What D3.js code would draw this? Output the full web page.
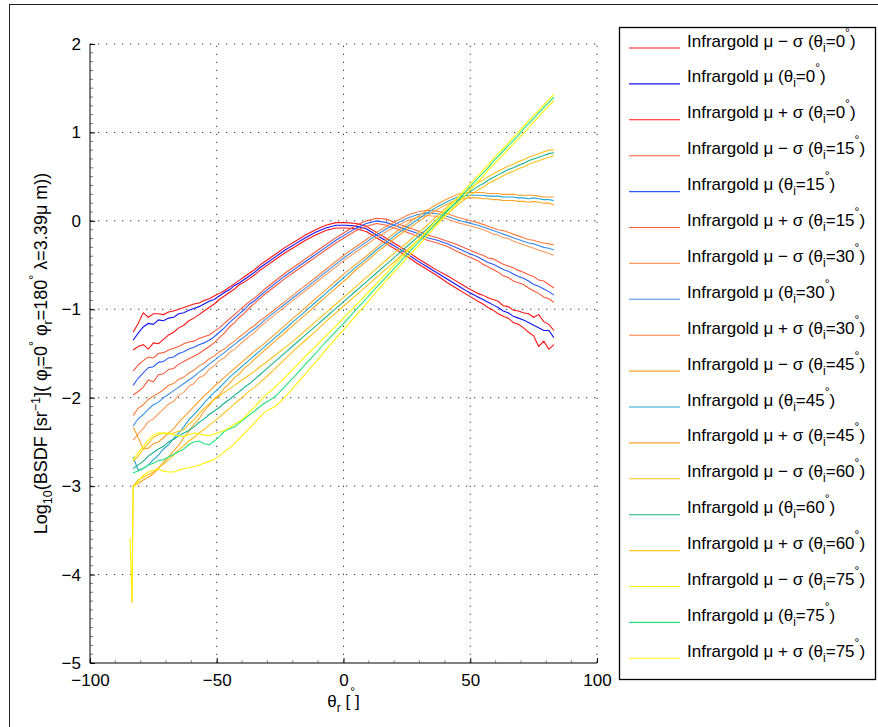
<!DOCTYPE html>
<html><head><meta charset="utf-8">
<script src="https://cdn.jsdelivr.net/npm/d3@7"></script>
<style>
body{margin:0;background:#fff;}
svg text{font-family:"Liberation Sans",Arial,Helvetica,sans-serif;fill:#000;}
</style>
</head><body>
<svg id="chart" width="878" height="727"></svg>
<script>
// ---------------- data ----------------
const thetaR = [-83,-81,-79,-77,-75,-73,-71,-69,-67,-65,-63,-61,-59,-57,-55,-53,-51,-49,-47,-45,-43,-41,-39,-37,-35,-33,-31,
  -27,-23,-19,-15,-11,-7,-3,1,5,9,13,17,21,25,29,33,37,41,45,49,53,
  55,57,59,61,63,65,67,69,71,73,75,77,79,81,83];

const minus0 = [-1.46,-1.42,-1.40,-1.45,-1.38,-1.39,-1.34,-1.29,-1.26,-1.21,-1.18,-1.13,-1.10,-1.06,-1.02,-0.98,-0.94,-0.89,-0.85,-0.81,-0.77,-0.72,-0.69,-0.65,-0.61,-0.56,-0.52,
  -0.44,-0.36,-0.29,-0.22,-0.16,-0.11,-0.08,-0.08,-0.09,-0.12,-0.19,-0.26,-0.33,-0.40,-0.48,-0.55,-0.62,-0.70,-0.77,-0.84,-0.91,
  -0.94,-0.98,-1.01,-1.05,-1.08,-1.10,-1.15,-1.17,-1.21,-1.26,-1.30,-1.42,-1.36,-1.45,-1.40];
const mean0 = [-1.35,-1.27,-1.20,-1.16,-1.17,-1.12,-1.13,-1.10,-1.09,-1.05,-1.04,-1.01,-0.99,-0.97,-0.94,-0.91,-0.89,-0.85,-0.81,-0.78,-0.73,-0.70,-0.66,-0.62,-0.58,-0.53,-0.49,
  -0.41,-0.33,-0.26,-0.19,-0.13,-0.08,-0.05,-0.05,-0.06,-0.09,-0.16,-0.23,-0.30,-0.37,-0.45,-0.52,-0.59,-0.66,-0.73,-0.80,-0.86,
  -0.89,-0.92,-0.95,-0.98,-1.02,-1.04,-1.08,-1.10,-1.12,-1.15,-1.18,-1.21,-1.24,-1.24,-1.32];
const plus0 = [-1.26,-1.16,-1.04,-1.09,-1.05,-1.05,-1.06,-1.03,-1.02,-1.00,-0.98,-0.96,-0.94,-0.93,-0.90,-0.88,-0.85,-0.82,-0.79,-0.75,-0.71,-0.67,-0.63,-0.59,-0.55,-0.50,-0.46,
  -0.38,-0.30,-0.23,-0.16,-0.10,-0.05,-0.02,-0.02,-0.03,-0.06,-0.13,-0.20,-0.27,-0.34,-0.42,-0.49,-0.56,-0.62,-0.69,-0.76,-0.82,
  -0.84,-0.87,-0.89,-0.91,-0.96,-0.97,-1.01,-1.02,-1.04,-1.05,-1.09,-1.06,-1.14,-1.17,-1.24];

const minus15 = [-1.97,-1.93,-1.88,-1.80,-1.82,-1.74,-1.73,-1.68,-1.67,-1.62,-1.59,-1.56,-1.53,-1.50,-1.46,-1.42,-1.38,-1.32,-1.27,-1.20,-1.15,-1.09,-1.04,-0.98,-0.93,-0.88,-0.83,
  -0.74,-0.65,-0.57,-0.49,-0.41,-0.33,-0.25,-0.18,-0.11,-0.06,-0.03,-0.05,-0.09,-0.13,-0.17,-0.22,-0.25,-0.29,-0.35,-0.40,-0.45,
  -0.49,-0.52,-0.55,-0.58,-0.62,-0.64,-0.68,-0.70,-0.72,-0.76,-0.79,-0.82,-0.86,-0.88,-0.92];
const mean15 = [-1.86,-1.78,-1.72,-1.66,-1.65,-1.60,-1.59,-1.55,-1.54,-1.50,-1.48,-1.45,-1.43,-1.40,-1.38,-1.35,-1.31,-1.26,-1.21,-1.15,-1.10,-1.05,-1.00,-0.94,-0.90,-0.85,-0.80,
  -0.71,-0.62,-0.54,-0.46,-0.38,-0.30,-0.22,-0.15,-0.08,-0.03,0.00,-0.02,-0.06,-0.10,-0.14,-0.19,-0.22,-0.26,-0.31,-0.36,-0.41,
  -0.44,-0.47,-0.49,-0.52,-0.55,-0.57,-0.60,-0.63,-0.65,-0.68,-0.72,-0.74,-0.77,-0.80,-0.84];
const plus15 = [-1.70,-1.63,-1.58,-1.54,-1.55,-1.50,-1.49,-1.46,-1.44,-1.42,-1.39,-1.37,-1.36,-1.33,-1.31,-1.29,-1.25,-1.21,-1.16,-1.11,-1.06,-1.01,-0.96,-0.91,-0.87,-0.82,-0.77,
  -0.68,-0.59,-0.51,-0.43,-0.35,-0.27,-0.19,-0.12,-0.05,0.00,0.03,0.02,-0.03,-0.07,-0.11,-0.16,-0.19,-0.23,-0.27,-0.32,-0.37,
  -0.39,-0.42,-0.43,-0.46,-0.49,-0.51,-0.53,-0.56,-0.58,-0.61,-0.63,-0.67,-0.68,-0.72,-0.76];

const minus30 = [-2.48,-2.41,-2.35,-2.27,-2.24,-2.18,-2.13,-2.07,-2.04,-1.97,-1.94,-1.87,-1.84,-1.77,-1.75,-1.68,-1.64,-1.58,-1.55,-1.49,-1.45,-1.40,-1.35,-1.30,-1.26,-1.20,-1.15,
  -1.06,-0.97,-0.88,-0.79,-0.70,-0.61,-0.52,-0.43,-0.35,-0.27,-0.19,-0.12,-0.06,0.00,0.04,0.06,0.05,0.02,-0.02,-0.05,-0.08,
  -0.10,-0.12,-0.15,-0.16,-0.19,-0.20,-0.23,-0.25,-0.27,-0.29,-0.31,-0.33,-0.35,-0.37,-0.39];
const mean30 = [-2.32,-2.24,-2.19,-2.13,-2.08,-2.05,-2.00,-1.96,-1.92,-1.88,-1.84,-1.80,-1.76,-1.71,-1.67,-1.62,-1.58,-1.53,-1.49,-1.44,-1.40,-1.35,-1.31,-1.26,-1.22,-1.17,-1.12,
  -1.03,-0.94,-0.85,-0.76,-0.67,-0.58,-0.49,-0.40,-0.32,-0.24,-0.16,-0.09,-0.03,0.03,0.07,0.09,0.08,0.05,0.01,-0.02,-0.05,
  -0.07,-0.09,-0.11,-0.13,-0.15,-0.17,-0.19,-0.21,-0.23,-0.25,-0.26,-0.28,-0.30,-0.31,-0.33];
const plus30 = [-2.20,-2.12,-2.08,-2.02,-1.98,-1.95,-1.91,-1.86,-1.84,-1.79,-1.77,-1.72,-1.69,-1.64,-1.61,-1.56,-1.53,-1.48,-1.45,-1.40,-1.36,-1.31,-1.27,-1.22,-1.18,-1.13,-1.09,
  -1.00,-0.91,-0.82,-0.73,-0.64,-0.55,-0.46,-0.37,-0.29,-0.21,-0.13,-0.06,0.00,0.06,0.10,0.12,0.11,0.08,0.04,0.01,-0.02,
  -0.04,-0.06,-0.08,-0.10,-0.11,-0.13,-0.15,-0.17,-0.19,-0.21,-0.22,-0.24,-0.25,-0.26,-0.27];

const minus45 = [-3.00,-2.97,-2.93,-2.90,-2.86,-2.80,-2.73,-2.67,-2.60,-2.54,-2.45,-2.38,-2.30,-2.24,-2.15,-2.09,-2.01,-1.97,-1.89,-1.84,-1.77,-1.73,-1.66,-1.62,-1.56,-1.51,-1.46,
  -1.36,-1.26,-1.16,-1.06,-0.96,-0.86,-0.76,-0.66,-0.55,-0.46,-0.36,-0.27,-0.18,-0.10,-0.02,0.06,0.13,0.19,0.24,0.26,0.26,
  0.25,0.25,0.24,0.24,0.23,0.23,0.23,0.22,0.22,0.21,0.22,0.21,0.20,0.20,0.18];
const mean45 = [-2.67,-2.82,-2.80,-2.76,-2.70,-2.65,-2.58,-2.53,-2.46,-2.40,-2.33,-2.25,-2.19,-2.13,-2.06,-2.00,-1.94,-1.89,-1.83,-1.77,-1.72,-1.67,-1.62,-1.57,-1.52,-1.47,-1.42,
  -1.32,-1.22,-1.12,-1.02,-0.92,-0.82,-0.72,-0.62,-0.52,-0.43,-0.33,-0.24,-0.15,-0.07,0.01,0.09,0.16,0.22,0.27,0.29,0.29,
  0.29,0.28,0.28,0.28,0.27,0.27,0.27,0.26,0.26,0.25,0.26,0.25,0.24,0.24,0.23];
const plus45 = [-2.33,-2.45,-2.58,-2.57,-2.52,-2.50,-2.45,-2.40,-2.35,-2.28,-2.22,-2.16,-2.10,-2.04,-1.98,-1.93,-1.87,-1.82,-1.77,-1.72,-1.67,-1.62,-1.57,-1.52,-1.47,-1.43,-1.38,
  -1.28,-1.18,-1.08,-0.98,-0.88,-0.78,-0.68,-0.58,-0.49,-0.40,-0.30,-0.21,-0.12,-0.04,0.04,0.12,0.19,0.25,0.30,0.32,0.32,
  0.32,0.31,0.31,0.31,0.30,0.30,0.30,0.29,0.29,0.29,0.29,0.28,0.27,0.27,0.27];

const minus60 = [-3.00,-2.93,-2.90,-2.87,-2.84,-2.79,-2.75,-2.70,-2.65,-2.59,-2.54,-2.49,-2.45,-2.40,-2.36,-2.31,-2.27,-2.22,-2.17,-2.12,-2.07,-2.02,-1.97,-1.92,-1.88,-1.83,-1.78,
  -1.67,-1.56,-1.45,-1.35,-1.25,-1.14,-1.04,-0.94,-0.84,-0.74,-0.64,-0.54,-0.44,-0.33,-0.23,-0.13,-0.02,0.08,0.18,0.27,0.35,
  0.38,0.42,0.45,0.48,0.51,0.54,0.56,0.59,0.61,0.64,0.66,0.68,0.70,0.72,0.74];
const mean60 = [-2.80,-2.76,-2.72,-2.66,-2.62,-2.58,-2.55,-2.50,-2.47,-2.43,-2.40,-2.37,-2.33,-2.28,-2.24,-2.19,-2.15,-2.11,-2.06,-2.02,-1.97,-1.93,-1.88,-1.84,-1.79,-1.74,-1.69,
  -1.59,-1.49,-1.39,-1.29,-1.19,-1.09,-0.99,-0.89,-0.79,-0.69,-0.59,-0.49,-0.39,-0.29,-0.19,-0.09,0.02,0.12,0.22,0.31,0.39,
  0.42,0.46,0.49,0.52,0.55,0.58,0.60,0.63,0.65,0.68,0.70,0.72,0.74,0.76,0.77];
const plus60 = [-2.72,-2.66,-2.58,-2.52,-2.45,-2.42,-2.40,-2.41,-2.40,-2.38,-2.36,-2.30,-2.25,-2.18,-2.12,-2.07,-2.02,-1.98,-1.94,-1.90,-1.86,-1.82,-1.78,-1.74,-1.70,-1.65,-1.61,
  -1.52,-1.43,-1.34,-1.24,-1.14,-1.04,-0.94,-0.84,-0.74,-0.64,-0.54,-0.44,-0.34,-0.25,-0.15,-0.05,0.06,0.16,0.26,0.35,0.43,
  0.46,0.50,0.53,0.56,0.59,0.62,0.64,0.67,0.69,0.72,0.74,0.76,0.78,0.80,0.80];

const minus75 = [-3.02,-2.95,-2.88,-2.84,-2.82,-2.81,-2.83,-2.84,-2.84,-2.82,-2.80,-2.79,-2.78,-2.76,-2.74,-2.72,-2.70,-2.66,-2.61,-2.57,-2.52,-2.46,-2.40,-2.34,-2.28,-2.22,-2.16,
  -2.10,-1.99,-1.86,-1.73,-1.60,-1.46,-1.33,-1.20,-1.07,-0.94,-0.80,-0.67,-0.55,-0.42,-0.30,-0.17,-0.04,0.08,0.20,0.32,0.44,
  0.50,0.57,0.63,0.69,0.75,0.81,0.87,0.93,0.99,1.05,1.12,1.18,1.24,1.30,1.36];
const mean75 = [-2.85,-2.83,-2.80,-2.76,-2.74,-2.71,-2.70,-2.67,-2.64,-2.61,-2.58,-2.53,-2.50,-2.49,-2.52,-2.53,-2.49,-2.44,-2.38,-2.35,-2.33,-2.28,-2.24,-2.19,-2.15,-2.10,-2.06,
  -1.99,-1.87,-1.75,-1.62,-1.50,-1.37,-1.25,-1.13,-1.00,-0.88,-0.75,-0.63,-0.51,-0.38,-0.26,-0.14,-0.01,0.11,0.23,0.36,0.48,
  0.54,0.60,0.67,0.73,0.79,0.85,0.91,0.97,1.04,1.10,1.16,1.22,1.28,1.34,1.40];
const plus75 = [-2.70,-2.62,-2.55,-2.48,-2.42,-2.40,-2.40,-2.40,-2.42,-2.43,-2.44,-2.42,-2.40,-2.41,-2.42,-2.43,-2.41,-2.39,-2.37,-2.34,-2.30,-2.27,-2.22,-2.16,-2.10,-2.04,-1.98,
  -1.88,-1.77,-1.65,-1.53,-1.42,-1.30,-1.19,-1.07,-0.95,-0.83,-0.71,-0.59,-0.47,-0.35,-0.23,-0.11,0.02,0.14,0.26,0.39,0.51,
  0.57,0.63,0.70,0.76,0.82,0.88,0.94,1.00,1.07,1.13,1.19,1.25,1.31,1.37,1.43];

// first samples of the μ−σ curves that plunge at the grazing edge
const edgeTheta60 = [-83.4];
const edgeMinus60 = [-4.32];
const edgeTheta75 = [-84.2, -83.4];
const edgeMinus75 = [-3.59, -4.30];

const seriesLabels = [
  ["\u2212 \u03c3", "0"], ["", "0"], ["+ \u03c3", "0"],
  ["\u2212 \u03c3", "15"], ["", "15"], ["+ \u03c3", "15"],
  ["\u2212 \u03c3", "30"], ["", "30"], ["+ \u03c3", "30"],
  ["\u2212 \u03c3", "45"], ["", "45"], ["+ \u03c3", "45"],
  ["\u2212 \u03c3", "60"], ["", "60"], ["+ \u03c3", "60"],
  ["\u2212 \u03c3", "75"], ["", "75"], ["+ \u03c3", "75"]
];
const seriesColors = [
  "#ff1414","#1010ff","#ff1414",
  "#ff5a3c","#2a5cff","#ff5a3c",
  "#ff9a5a","#3d8ee6","#ff7f3f",
  "#ffa526","#22a4d4","#ff9f2a",
  "#ffc21a","#16b28c","#ffc21a",
  "#fff200","#24e27c","#ffff00"
];
const xTicks = [-100,-50,0,50,100];
const yTicks = [-5,-4,-3,-2,-1,0,1,2];

// ---------------- build ----------------
const zip = (xs, ys) => xs.slice(0, Math.min(xs.length, ys.length)).map((t,i)=>[t, ys[i]]);
const seriesValues = [
  zip(thetaR, minus0), zip(thetaR, mean0), zip(thetaR, plus0),
  zip(thetaR, minus15), zip(thetaR, mean15), zip(thetaR, plus15),
  zip(thetaR, minus30), zip(thetaR, mean30), zip(thetaR, plus30),
  zip(thetaR, minus45), zip(thetaR, mean45), zip(thetaR, plus45),
  zip(edgeTheta60, edgeMinus60).concat(zip(thetaR, minus60)), zip(thetaR, mean60), zip(thetaR, plus60),
  zip(edgeTheta75, edgeMinus75).concat(zip(thetaR, minus75)), zip(thetaR, mean75), zip(thetaR, plus75)
];

const svg = d3.select("#chart");
const L = 90, R = 597, T = 44, B = 663;
const x = d3.scaleLinear().domain([-100,100]).range([L,R]);
const y = d3.scaleLinear().domain([-5,2]).range([B,T]);

// figure frame
svg.append("rect").attr("x",9.5).attr("y",4.5).attr("width",900).attr("height",800)
  .attr("fill","none").attr("stroke","#222").attr("stroke-width",1);

// grid (dotted)
const grid = svg.append("g");
yTicks.filter(v=>v>-5).forEach(v=>{
  grid.append("line").attr("x1",L).attr("x2",R).attr("y1",y(v)).attr("y2",y(v))
    .attr("stroke","#333").attr("stroke-width",1).attr("stroke-dasharray","1.3,6.7");
});
xTicks.filter(v=>v>-100).forEach(v=>{
  grid.append("line").attr("x1",x(v)).attr("x2",x(v)).attr("y1",B).attr("y2",T)
    .attr("stroke","#333").attr("stroke-width",1).attr("stroke-dasharray","1.3,6.7");
});

// minor ticks
d3.range(-5,2.0001,0.1).forEach(v=>{
  svg.append("line").attr("x1",L).attr("x2",L+3).attr("y1",y(v)).attr("y2",y(v))
    .attr("stroke","#777").attr("stroke-width",1);
});
d3.range(-100,100.001,10).forEach(v=>{
  svg.append("line").attr("x1",x(v)).attr("x2",x(v)).attr("y1",B).attr("y2",B-3)
    .attr("stroke","#999").attr("stroke-width",1);
});

// axes with d3 axis generators (ticks inward)
const fmt = d => d < 0 ? "\u2212" + Math.abs(d) : String(d);
const yAxis = d3.axisLeft(y).tickValues(yTicks).tickSize(-5).tickPadding(9).tickFormat(fmt);
const xAxis = d3.axisBottom(x).tickValues(xTicks).tickSize(-5).tickPadding(11).tickFormat(fmt);
const gy = svg.append("g").attr("transform",`translate(${L},0)`).call(yAxis);
const gx = svg.append("g").attr("transform",`translate(0,${B})`).call(xAxis);
[gy,gx].forEach(g=>{
  g.select(".domain").attr("stroke","#000").attr("stroke-width",1);
  g.selectAll(".tick line").attr("stroke","#000");
  g.selectAll("text").attr("font-size",17).attr("font-family","Liberation Sans, Arial, sans-serif").attr("fill","#000");
});
gy.select(".domain").attr("d",`M0,${T}V${B}`);
gx.select(".domain").attr("d",`M${L},0H${R}`);

// curves
const line = d3.line().x(d=>x(d[0])).y(d=>y(d[1]));
svg.append("g").selectAll("path").data(seriesValues).join("path")
  .attr("d",line).attr("fill","none")
  .attr("stroke",(d,i)=>seriesColors[i]).attr("stroke-width",1.1);

// axis labels
const xl = svg.append("text").attr("x",x(0)).attr("y",707).attr("text-anchor","middle").attr("font-size",17);
xl.append("tspan").text("\u03b8");
xl.append("tspan").attr("font-size",12).attr("dy",5).text("r");
xl.append("tspan").attr("dy",-5).text(" [");
xl.append("tspan").attr("font-size",12).attr("dy",-11).text("\u00b0");
xl.append("tspan").attr("dy",11).text("]");

const yl = svg.append("text").attr("transform",`translate(47,${(T+B)/2}) rotate(-90)`)
  .attr("text-anchor","middle").attr("font-size",18);
const ylParts = [
  ["Log",0,18],["10",5,12.5],["(BSDF [sr",-5,18],["\u22121",-7,12.5],["]( \u03c6",7,18],["i",5,12.5],["=0",-5,18],
  ["\u00b0",-9,12.5],["  \u03c6",9,18],["r",5,12.5],["=180",-5,18],["\u00b0",-9,12.5],["  \u03bb=3.39\u03bc m))",9,18]
];
ylParts.forEach(([t,dy,fs])=>yl.append("tspan").attr("dy",dy).attr("font-size",fs).text(t));

// legend
const lg = svg.append("g");
lg.append("rect").attr("x",619.5).attr("y",27.5).attr("width",256).attr("height",652)
  .attr("fill","#fff").attr("stroke","#000").attr("stroke-width",1.3);
seriesLabels.forEach((lab,i)=>{
  const yy = 48 + i*35.9;
  lg.append("line").attr("x1",629).attr("x2",680).attr("y1",yy).attr("y2",yy)
    .attr("stroke",seriesColors[i]).attr("stroke-width",1.1);
  const t = lg.append("text").attr("x",687).attr("y",yy-1.5).attr("font-size",17);
  t.append("tspan").text("Infrargold \u03bc " + (lab[0] ? lab[0] + " " : "") + "(\u03b8");
  t.append("tspan").attr("font-size",12).attr("dy",5).text("i");
  t.append("tspan").attr("dy",-5).text("=" + lab[1]);
  t.append("tspan").attr("font-size",12).attr("dy",-10).text("\u00b0");
  t.append("tspan").attr("dy",10).text(")");
});
</script>
</body></html>
